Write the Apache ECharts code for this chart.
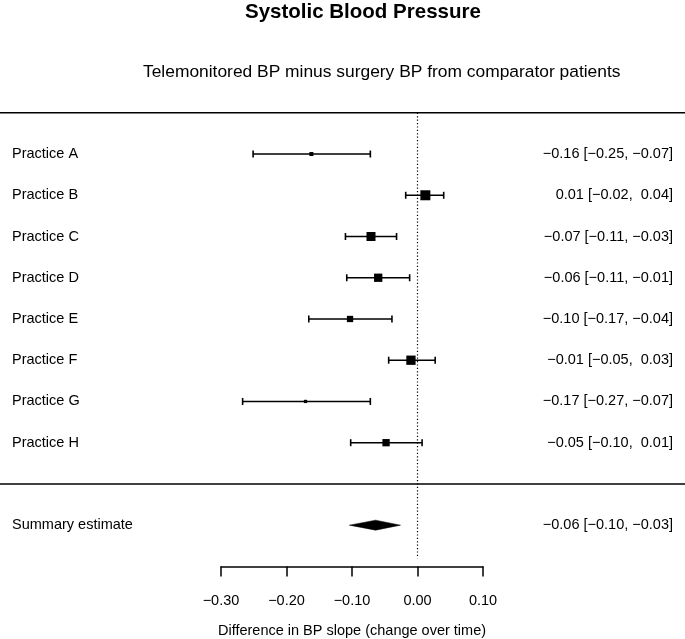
<!DOCTYPE html>
<html>
<head>
<meta charset="utf-8">
<script src="https://cdn.jsdelivr.net/npm/echarts@6/dist/echarts.min.js"></script>
<style>
html,body{margin:0;padding:0;background:#fff;}
#chart{width:685px;height:639px;}
</style>
</head>
<body>
<div id="chart"></div>
<script>
// ---- data ----
const practices = ['Practice A','Practice B','Practice C','Practice D','Practice E','Practice F','Practice G','Practice H'];
const estimates = [-0.162, 0.012, -0.071, -0.060, -0.103, -0.010, -0.171, -0.048];
const lowerCI   = [-0.251, -0.018, -0.110, -0.108, -0.166, -0.044, -0.267, -0.102];
const upperCI   = [-0.072, 0.040, -0.032, -0.012, -0.039, 0.027, -0.072, 0.007];
const boxWeights = [0.40, 1.00, 0.90, 0.83, 0.63, 0.93, 0.33, 0.73]; // relative box size
const annotations = ['\u22120.16 [\u22120.25, \u22120.07]','0.01 [\u22120.02,  0.04]','\u22120.07 [\u22120.11, \u22120.03]','\u22120.06 [\u22120.11, \u22120.01]','\u22120.10 [\u22120.17, \u22120.04]','\u22120.01 [\u22120.05,  0.03]','\u22120.17 [\u22120.27, \u22120.07]','\u22120.05 [\u22120.10,  0.01]'];
const summaryLabel = 'Summary estimate';
const summaryEst = -0.064;
const summaryLower = -0.104;
const summaryUpper = -0.026;
const summaryAnnotation = '\u22120.06 [\u22120.10, \u22120.03]';
const xTicks = [-0.30, -0.20, -0.10, 0.00, 0.10];
const titleText = 'Systolic Blood Pressure';
const subtitleText = 'Telemonitored BP minus surgery BP from comparator patients';
const xAxisTitle = 'Difference in BP slope (change over time)';

// ---- layout of rows ----
const firstRow = 1;
const summaryRow = firstRow + practices.length + 1; // 10
const separatorRows = [0, practices.length + 1];     // 0 and 9
const totalRows = summaryRow + 1;                   // 11

const leftLabels = {};
const rightLabels = {};
practices.forEach((p, i) => { leftLabels[firstRow + i] = p; rightLabels[firstRow + i] = annotations[i]; });
leftLabels[summaryRow] = summaryLabel;
rightLabels[summaryRow] = summaryAnnotation;

function fmtTick(v) {
  if (Math.abs(v) < 1e-9) return '0.00';
  return (v < 0 ? '\u2212' : '') + Math.abs(v).toFixed(2);
}

const FONT = 'Liberation Sans, Arial, Helvetica, sans-serif';
const BLACK = '#000';

const chart = echarts.init(document.getElementById('chart'), null, {renderer: 'canvas'});

const forestData = practices.map((p, i) => [firstRow + i, estimates[i], lowerCI[i], upperCI[i], boxWeights[i]]);

const option = {
  animation: false,
  backgroundColor: '#fff',
  title: [
    {text: titleText, left: 245, top: 2, padding: 0,
     textStyle: {fontFamily: FONT, fontSize: 20.5, fontWeight: 'bold', color: BLACK}},
    {text: subtitleText, left: 143, top: 64, padding: 0,
     textStyle: {fontFamily: FONT, fontSize: 17.4, fontWeight: 'normal', color: BLACK}}
  ],
  grid: {left: 221, right: 202, top: 112.8, bottom: 72.6, containLabel: false, outerBoundsMode: 'none'},
  xAxis: {
    type: 'value', min: xTicks[0], max: xTicks[xTicks.length - 1], interval: 0.1,
    axisLine: {show: true, onZero: false, lineStyle: {color: BLACK, width: 1.5}},
    axisTick: {show: true, inside: false, length: 10, lineStyle: {color: BLACK, width: 1.5}},
    splitLine: {show: false},
    axisLabel: {formatter: fmtTick, margin: 27, color: BLACK, fontFamily: FONT, fontSize: 14.5},
    name: xAxisTitle, nameLocation: 'middle', nameGap: 57,
    nameTextStyle: {fontFamily: FONT, fontSize: 14.5, color: BLACK}
  },
  yAxis: [
    {
      type: 'value', inverse: true, min: 0, max: totalRows, interval: 1,
      axisLine: {show: false}, axisTick: {show: false}, splitLine: {show: false},
      axisLabel: {formatter: v => leftLabels[v] || '', align: 'left', margin: 209,
        color: BLACK, fontFamily: FONT, fontSize: 14.5, showMinLabel: true, showMaxLabel: true}
    },
    {
      type: 'value', inverse: true, min: 0, max: totalRows, interval: 1, position: 'right',
      axisLine: {show: false}, axisTick: {show: false}, splitLine: {show: false},
      axisLabel: {formatter: v => rightLabels[v] || '', align: 'right', margin: 190,
        color: BLACK, fontFamily: FONT, fontSize: 14.5, showMinLabel: true, showMaxLabel: true}
    }
  ],
  series: [
    { // separator lines across the full width
      type: 'custom', clip: false, silent: true,
      data: separatorRows.map(r => [0, r]),
      renderItem: (params, api) => {
        const y = api.coord([0, api.value(1)])[1];
        return {type: 'line', shape: {x1: 0, y1: y, x2: api.getWidth(), y2: y},
          style: {stroke: BLACK, lineWidth: 1.6}};
      }
    },
    { // reference (zero) line, dotted
      type: 'custom', clip: false, silent: true,
      data: [[0, 0]],
      renderItem: (params, api) => {
        const top = api.coord([api.value(0), api.value(1)]);
        const bot = api.coord([api.value(0), totalRows]);
        return {type: 'line', shape: {x1: top[0], y1: top[1], x2: bot[0], y2: bot[1] - 8},
          style: {stroke: BLACK, lineWidth: 1.2, lineDash: [1.2, 2.2]}};
      }
    },
    { // study estimates with CIs
      type: 'custom', clip: false, silent: true,
      data: forestData,
      encode: {x: [1, 2, 3], y: 0},
      renderItem: (params, api) => {
        const row = api.value(0);
        const c = api.coord([api.value(1), row]);
        const l = api.coord([api.value(2), row]);
        const u = api.coord([api.value(3), row]);
        const s = api.value(4) * 10;
        const cap = 3.5;
        const ls = {stroke: BLACK, lineWidth: 1.6};
        return {type: 'group', children: [
          {type: 'line', shape: {x1: l[0], y1: l[1], x2: u[0], y2: u[1]}, style: ls},
          {type: 'line', shape: {x1: l[0], y1: l[1] - cap, x2: l[0], y2: l[1] + cap}, style: ls},
          {type: 'line', shape: {x1: u[0], y1: u[1] - cap, x2: u[0], y2: u[1] + cap}, style: ls},
          {type: 'rect', shape: {x: c[0] - s / 2, y: c[1] - s / 2, width: s, height: s}, style: {fill: BLACK}}
        ]};
      }
    },
    { // summary diamond
      type: 'custom', clip: false, silent: true,
      data: [[summaryRow, summaryEst, summaryLower, summaryUpper]],
      encode: {x: [1, 2, 3], y: 0},
      renderItem: (params, api) => {
        const row = api.value(0);
        const c = api.coord([api.value(1), row]);
        const l = api.coord([api.value(2), row]);
        const u = api.coord([api.value(3), row]);
        const h = 5;
        return {type: 'polygon', shape: {points: [[l[0], l[1]], [c[0], c[1] - h], [u[0], u[1]], [c[0], c[1] + h]]},
          style: {fill: BLACK, stroke: BLACK, lineWidth: 0.5}};
      }
    }
  ]
};
chart.setOption(option);
</script>
</body>
</html>
